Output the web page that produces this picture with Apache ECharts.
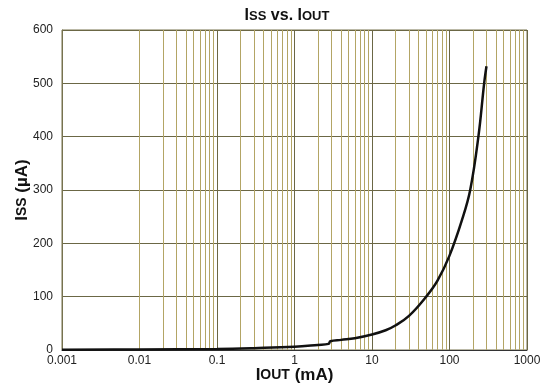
<!DOCTYPE html>
<html><head><meta charset="utf-8">
<script src="https://cdn.jsdelivr.net/npm/echarts@6/dist/echarts.min.js"></script>
<style>html,body{margin:0;padding:0;background:#fff}#c{width:547px;height:392px}</style>
</head><body><div id="c"></div>
<script>
const ioutMA = [0.001, 0.01, 0.1, 0.3, 1, 2, 2.75, 2.9, 4, 6, 10, 15, 20, 30, 50, 70, 100, 145, 185, 236, 280, 300];
const issUA  = [0.5, 1, 2, 3.5, 6, 9.5, 11.5, 16.5, 19, 22, 29, 37, 46, 64, 100, 130, 177, 244, 300, 400, 500, 532];
const xTickLabels = ['0.001', '0.01', '0.1', '1', '10', '100', '1000'];
const yTicks = [0, 100, 200, 300, 400, 500, 600];
const decades = [0.001, 0.01, 0.1, 1, 10, 100];
const minorMultipliers = [2, 3, 4, 5, 6, 7, 8, 9];

const minorLines = [];
decades.forEach(d => minorMultipliers.forEach(m => minorLines.push({xAxis: +(d * m).toPrecision(6)})));

const font = 'Arial, "Liberation Sans", sans-serif';
const chart = echarts.init(document.getElementById('c'));
function capsRich(big, small) {
  return {
    a: {fontFamily: font, fontSize: big, fontWeight: 'bold', color: '#111'},
    b: {fontFamily: font, fontSize: small, fontWeight: 'bold', color: '#111'}
  };
}
chart.setOption({
  animation: false,
  title: {
    text: '{a|I}{b|SS}{a| vs. I}{b|OUT}',
    left: 282, top: 3, textAlign: 'center',
    textStyle: {rich: capsRich(16, 13)}
  },
  grid: {left: 62, right: 20, top: 30, bottom: 42, outerBoundsMode: 'none', containLabel: false,
         show: true, borderColor: '#77734f', borderWidth: 1, backgroundColor: '#fff'},
  xAxis: {
    type: 'log', logBase: 10, min: 0.001, max: 1000, interval: 1,
    name: '{a|I}{b|OUT}{a| (mA)}', nameLocation: 'middle', nameGap: 17, nameMoveOverlap: false,
    nameTextStyle: {rich: capsRich(17, 14)},
    axisLine: {show: true, lineStyle: {color: '#333', width: 1}},
    axisTick: {show: false},
    axisLabel: {
      fontFamily: font, fontSize: 12, color: '#222', margin: 5,
      formatter: v => { const i = Math.round(Math.log10(v)) + 3; return xTickLabels[i] !== undefined ? xTickLabels[i] : ''; }
    },
    splitLine: {show: true, lineStyle: {color: '#6b6745', width: 1}}
  },
  yAxis: {
    type: 'value', min: yTicks[0], max: yTicks[yTicks.length - 1], interval: 100,
    name: '{a|I}{b|SS}{a| (µA)}', nameLocation: 'middle', nameGap: 31, nameRotate: 90, nameMoveOverlap: false,
    nameTextStyle: {rich: capsRich(17, 14)},
    axisLine: {show: true, lineStyle: {color: '#77734f', width: 1}},
    axisTick: {show: false},
    axisLabel: {fontFamily: font, fontSize: 12, color: '#222', margin: 9},
    splitLine: {show: true, lineStyle: {color: '#6b6745', width: 1}}
  },
  series: [{
    type: 'line',
    data: ioutMA.map((x, i) => [x, issUA[i]]),
    showSymbol: false, smooth: 0.4,
    lineStyle: {color: '#111', width: 2.5},
    z: 5,
    markLine: {
      silent: true, symbol: 'none', animation: false,
      label: {show: false},
      lineStyle: {color: '#b3a565', width: 1, type: 'solid'},
      data: minorLines,
      z: 1
    }
  }]
});
</script></body></html>
